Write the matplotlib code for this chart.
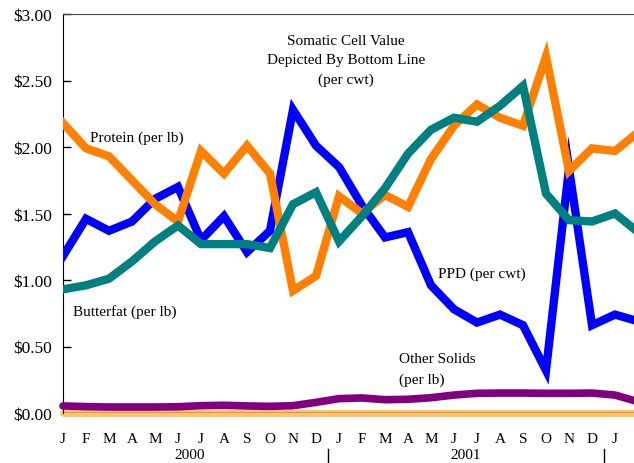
import matplotlib
matplotlib.use('Agg')
import matplotlib.pyplot as plt

plt.rcParams['font.family'] = ['Liberation Serif', 'DejaVu Serif']

# months Jan 2000 .. Feb 2002
months = ['J', 'F', 'M', 'A', 'M', 'J', 'J', 'A', 'S', 'O', 'N', 'D'] * 2 + ['J', 'F']
years = ['2000', '2001', '2002']

protein = [2.18, 1.99, 1.93, 1.75, 1.57, 1.44, 1.97, 1.80, 2.01, 1.80, 0.92, 1.03,
           1.63, 1.50, 1.64, 1.55, 1.91, 2.16, 2.32, 2.22, 2.16, 2.68, 1.82, 1.99,
           1.97, 2.11]
ppd = [1.18, 1.46, 1.37, 1.44, 1.61, 1.70, 1.30, 1.48, 1.21, 1.37, 2.28, 2.01,
       1.85, 1.56, 1.32, 1.36, 0.96, 0.78, 0.68, 0.74, 0.66, 0.32, 1.84, 0.66,
       0.74, 0.69]
butterfat = [0.93, 0.96, 1.01, 1.14, 1.29, 1.41, 1.27, 1.27, 1.27, 1.24, 1.57, 1.66,
             1.29, 1.48, 1.69, 1.95, 2.13, 2.22, 2.19, 2.31, 2.46, 1.65, 1.45, 1.44,
             1.50, 1.36]
other_solids = [0.053, 0.048, 0.045, 0.045, 0.045, 0.047, 0.055, 0.058, 0.053, 0.050,
                0.055, 0.080, 0.108, 0.113, 0.100, 0.103, 0.115, 0.135, 0.148, 0.150,
                0.150, 0.148, 0.148, 0.150, 0.135, 0.085]
somatic = [0.0] * 26

x = list(range(len(months)))

fig = plt.figure(figsize=(6.34, 4.64), dpi=100)
# axes runs a little past the right edge, the source image is cropped there
ax = fig.add_axes([63/634, 50/464, 575/634, 399/464])

ax.plot(x, somatic, color='#FFC266', lw=5, solid_capstyle='round', zorder=2, clip_on=False)
ax.plot(x, ppd, color='#0000FF', lw=6, solid_joinstyle='miter', zorder=3)
ax.plot(x, protein, color='#FF8000', lw=6, solid_joinstyle='miter', zorder=4)
ax.plot(x, butterfat, color='#008080', lw=6, solid_joinstyle='miter', zorder=5)
ax.plot(x, other_solids, color='#800080', lw=5.5, solid_capstyle='round', zorder=6,
        clip_on=False)
ax.axhline(0, color='black', lw=1, zorder=7)

ax.set_xlim(0, 25)
ax.set_ylim(0, 3)
ax.set_yticks([0, 0.5, 1, 1.5, 2, 2.5, 3])
ax.set_yticklabels(['$%.2f' % v for v in [0, 0.5, 1, 1.5, 2, 2.5, 3]], fontsize=12.5)
ax.tick_params(axis='y', direction='in', length=6, width=1, pad=8)
ax.set_xticks(x)
ax.set_xticklabels(months, fontsize=11)
ax.tick_params(axis='x', length=0, pad=14)

ax.spines['right'].set_visible(False)
ax.spines['bottom'].set_visible(False)
ax.spines['top'].set_color('#444444')
ax.spines['left'].set_color('black')

# year labels and separators below the month letters
trans = ax.get_xaxis_transform()
for i, yr in enumerate(years):
    ax.text(5.5 + 12 * i, -0.104, yr, transform=trans, ha='center', va='center',
            fontsize=11, clip_on=False)
for sep in [11.5, 23.5]:
    ax.plot([sep, sep], [-0.09, -0.14], transform=trans, color='black', lw=1,
            clip_on=False)

# series notes
ax.text(1.17, 2.07, 'Protein (per lb)', fontsize=11, va='center')
ax.text(0.43, 0.77, 'Butterfat (per lb)', fontsize=11, va='center')
ax.text(16.3, 1.05, 'PPD (per cwt)', fontsize=11, va='center')
ax.text(14.6, 0.41, 'Other Solids', fontsize=11, va='center')
ax.text(14.6, 0.25, '(per lb)', fontsize=11, va='center')
ax.text(12.3, 2.80, 'Somatic Cell Value', fontsize=11, va='center', ha='center')
ax.text(12.3, 2.66, 'Depicted By Bottom Line', fontsize=11, va='center', ha='center')
ax.text(12.3, 2.51, '(per cwt)', fontsize=11, va='center', ha='center')

fig.savefig('out.png', dpi=100)
